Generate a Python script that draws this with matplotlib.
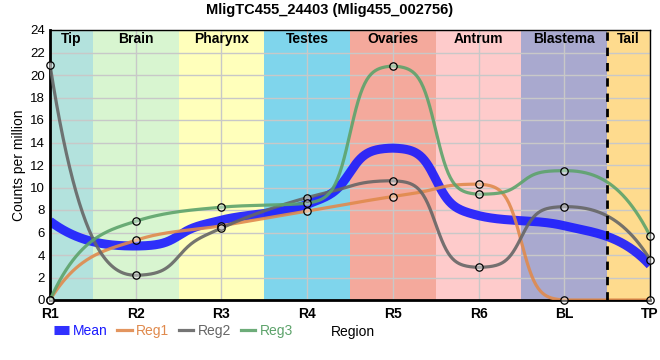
import numpy as np
import matplotlib
matplotlib.use("Agg")
import matplotlib.pyplot as plt

plt.rcParams['font.family'] = ['Liberation Sans', 'DejaVu Sans']

positions = ["R1", "R2", "R3", "R4", "R5", "R6", "BL", "TP"]
regions = ["Tip", "Brain", "Pharynx", "Testes", "Ovaries", "Antrum", "Blastema", "Tail"]
region_colors = ["#b3e2dd", "#d8f5d0", "#ffffbb", "#7fd5ec", "#f4a99c", "#fecbcb", "#a9a9cf", "#fedb8e"]

reg1 = [0.0, 5.3, 6.6, 7.9, 9.2, 10.3, 0.0, 0.0]
reg2 = [20.9, 2.2, 6.4, 9.1, 10.6, 2.9, 8.3, 3.6]
reg3 = [0.0, 7.0, 8.25, 8.6, 20.8, 9.4, 11.5, 5.7]
mean = [7.0, 4.8, 7.1, 8.5, 13.5, 7.5, 6.6, 3.1]

series = [("Reg1", reg1, "#e08a4d"), ("Reg2", reg2, "#666666"), ("Reg3", reg3, "#5da36b")]


def smooth(y, n=80, k=11.0):
    # monotone hermite, sharper steps between peaks
    y = np.asarray(y, dtype=float)
    s = np.diff(y)
    m = np.zeros(len(y))
    for i in range(1, len(y) - 1):
        p = (s[i - 1] + s[i]) / 2
        m[i] = (np.sign(s[i - 1]) + np.sign(s[i])) * min(abs(s[i - 1]), abs(s[i]), 0.5 * abs(p))
    m[0] = 2.6 * s[0] - 0.5 * m[1]
    m[-1] = 2.6 * s[-1] - 0.5 * m[-2]
    t = np.linspace(0, 1, n)
    h10 = t**3 - 2 * t**2 + t
    h01 = -2 * t**3 + 3 * t**2
    h11 = t**3 - t**2
    sig = 1 / (1 + np.exp(-k * (t - 0.5)))
    lo, hi = 1 / (1 + np.exp(k / 2)), 1 / (1 + np.exp(-k / 2))
    wlog = (sig - lo) / (hi - lo)
    xs, ys = [], []
    for i in range(len(y) - 1):
        w = h01
        if 0 < i < len(y) - 2 and s[i] != 0:
            f = np.clip(1 - (abs(m[i]) + abs(m[i + 1])) / (2 * abs(s[i])), 0, 1)
            w = h01 + f * (wlog - h01)
        xs.append(i + t)
        ys.append(y[i] + s[i] * w + m[i] * h10 + m[i + 1] * h11)
    return np.concatenate(xs), np.concatenate(ys)


fig = plt.figure(figsize=(6.6, 3.6), dpi=100)
ax = fig.add_axes([50 / 660, 60 / 360, 600 / 660, 270 / 360])

edges = [0, 0.5, 1.5, 2.5, 3.5, 4.5, 5.5, 6.5, 7]
for i, (name, c) in enumerate(zip(regions, region_colors)):
    ax.axvspan(edges[i], edges[i + 1], color=c, lw=0, zorder=0)
    ax.text((edges[i] + edges[i + 1]) / 2, 23.2, name, ha='center', va='center',
            fontsize=10, fontweight='bold', zorder=5)

ax.axvline(6.5, color='black', lw=2, ls=(0, (3, 2.5)), zorder=4)

mx, my = smooth(mean)
ax.plot(mx, my, color='#1a1aff', lw=6.5, alpha=0.9, label="Mean", zorder=2, solid_capstyle='butt')
for name, vals, c in series:
    sx, sy = smooth(vals)
    ax.plot(sx, sy, color=c, lw=2.3, alpha=0.9, label=name, zorder=3)
for name, vals, c in series:
    ax.plot(range(len(vals)), vals, 'o', ms=5.3, mfc=(1, 1, 1, 0.4), mec='black', mew=0.9,
            zorder=6, clip_on=False)

ax.set_xlim(0, 7)
ax.set_ylim(0, 24)
ax.set_xticks(range(len(positions)))
ax.set_xticklabels(positions, fontsize=10, fontweight='bold')
ax.set_yticks(range(0, 25, 2))
ax.tick_params(axis='both', length=0, labelsize=9.5)
ax.tick_params(axis='x', pad=5, labelsize=10)
ax.grid(True, color='#c8c8c8', lw=1)
for gl in ax.get_xgridlines() + ax.get_ygridlines():
    gl.set_zorder(1)
ax.spines['left'].set_linewidth(2)
ax.spines['bottom'].set_linewidth(2)
ax.spines['top'].set_linewidth(1)
ax.spines['right'].set_linewidth(1)
ax.set_ylabel("Counts per million", fontsize=10, labelpad=3)

fig.suptitle("MligTC455_24403 (Mlig455_002756)", fontsize=10.5, fontweight='bold', y=0.992)

handles, labels = ax.get_legend_handles_labels()
fig.legend(handles, labels, loc='center left', bbox_to_anchor=(54 / 660, 1 - 331 / 360), ncol=4,
           frameon=False, handlelength=1.05, columnspacing=0.7, handletextpad=0.3,
           labelcolor='linecolor', fontsize=10, borderaxespad=0, borderpad=0)
fig.text(331 / 660, 1 - 332 / 360, "Region", ha='left', va='center', fontsize=10)

fig.savefig("out.png", dpi=100)
